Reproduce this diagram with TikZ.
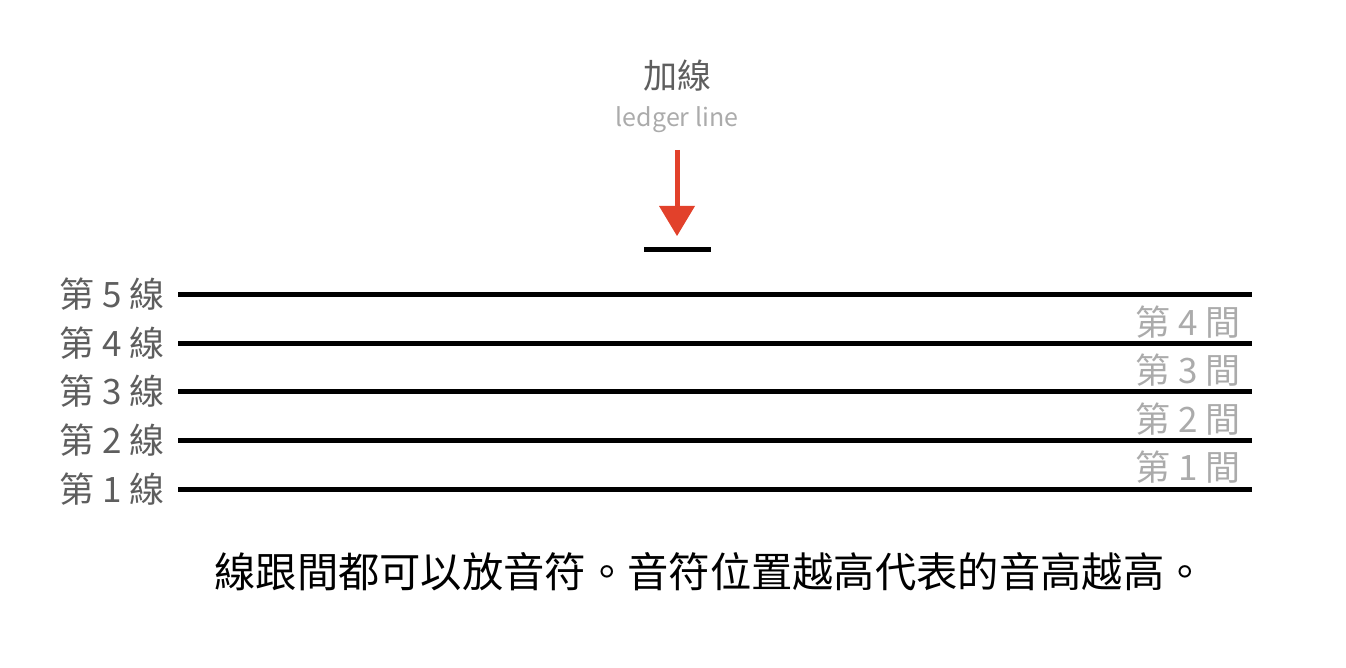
\documentclass[tikz,border=0pt]{standalone}
\usepackage{fontspec}
\newfontfamily\cjk{Noto Sans CJK TC}
\definecolor{arrowred}{HTML}{E2412B}
\definecolor{labeldark}{HTML}{5E5E5E}
\definecolor{labellight}{HTML}{ABABAB}
\begin{document}
\begin{tikzpicture}[x=1pt,y=-1pt,
  staffline/.style={line width=5pt},
  lineLabel/.style={anchor=east,inner sep=0pt,text=labeldark,font=\cjk\fontsize{35}{35}\selectfont},
  spaceLabel/.style={anchor=east,inner sep=0pt,text=labellight,font=\cjk\fontsize{35}{35}\selectfont}]
\useasboundingbox (0,0) rectangle (1346,668);
% staff lines
\foreach \i/\y in {1/489,2/440,3/391,4/343,5/294}{
  \coordinate (L\i a) at (178,\y);
  \coordinate (L\i b) at (1252,\y);
  \draw[staffline] (L\i a) -- (L\i b);
  \node[lineLabel] (lab\i) at (165,\y) {第 \i\ 線};
}
\foreach \i/\y in {1/467,2/419,3/370,4/322}{
  \node[spaceLabel] (sp\i) at (1241,\y) {第 \i\ 間};
}
% ledger line
\coordinate (lla) at (644,250);
\coordinate (llb) at (711,250);
\draw[staffline] (lla) -- (llb);
% titles
\node[inner sep=0pt,text=labeldark,font=\cjk\fontsize{34}{34}\selectfont] (title) at (677,76) {加線};
\node[inner sep=0pt,text=labellight,font=\cjk\fontsize{25}{25}\selectfont] (sub) at (677,119.5) {ledger line};
% arrow
\coordinate (as) at (677,150);
\coordinate (ae) at (677,210);
\draw[arrowred,line width=5pt] (as) -- (ae);
\fill[arrowred] (659,206) -- (695,206) -- (677,236) -- cycle;
% caption
\node[inner sep=0pt,font=\cjk\fontsize{41.3}{41.3}\selectfont] (cap) at (710,572) {線跟間都可以放音符。音符位置越高代表的音高越高。};
\end{tikzpicture}
\end{document}
